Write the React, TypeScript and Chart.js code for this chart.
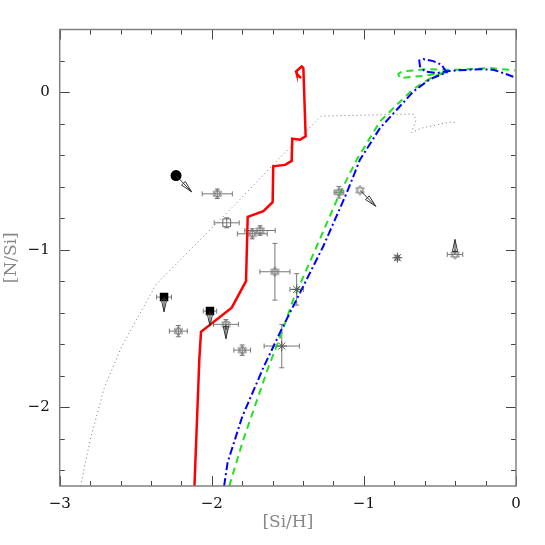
import { useEffect, useRef } from "react";
import { Chart, registerables } from "chart.js";

Chart.register(...registerables);

// ---- axes ----
const xMajorTicks = [-3, -2, -1, 0];
const xMinorTicks = [-2.8, -2.6, -2.4, -2.2, -1.8, -1.6, -1.4, -1.2, -0.8, -0.6, -0.4, -0.2];
const yMajorTicks = [-2, -1, 0];
const yMinorTicks = [0.2, -0.2, -0.4, -0.6, -0.8, -1.2, -1.4, -1.6, -1.8, -2.2, -2.4];

// ---- model curves ----
const dottedX = [-2.863, -2.8, -2.708, -2.593, -2.479, -2.365, -1.84, -1.573, -1.28, -1.09, -0.677, -0.657, -0.686, -0.612, -0.434, -0.402];
const dottedY = [-2.5, -2.21, -1.879, -1.615, -1.416, -1.218, -0.705, -0.435, -0.15, -0.146, -0.137, -0.173, -0.254, -0.224, -0.188, -0.19];

const redX = [-2.114, -2.082, -2.071, -1.869, -1.775, -1.764, -1.661, -1.6, -1.596, -1.519, -1.475, -1.471, -1.42, -1.383, -1.398, -1.409, -1.446, -1.442, -1.414];
const redY = [-2.5, -1.694, -1.521, -1.367, -1.198, -0.79, -0.754, -0.697, -0.469, -0.46, -0.435, -0.294, -0.3, -0.278, 0.155, 0.165, 0.133, 0.119, 0.091];

const greenX = [-1.885, -1.794, -1.629, -1.54, -1.464, -1.31, -1.157, -1.047, -0.894, -0.784, -0.675, -0.544, -0.456, -0.609, -0.763, -0.774, -0.752, -0.587, -0.39, -0.171, -0.005];
const greenY = [-2.5, -2.209, -1.748, -1.526, -1.315, -0.977, -0.638, -0.427, -0.184, -0.078, 0.021, 0.102, 0.127, 0.106, 0.091, 0.117, 0.133, 0.148, 0.144, 0.155, 0.14];

const blueX = [-1.919, -1.896, -1.8, -1.661, -1.552, -1.42, -1.267, -1.113, -1.026, -0.894, -0.784, -0.675, -0.565, -0.456, -0.489, -0.544, -0.609, -0.636, -0.631, -0.598, -0.521, -0.456, -0.39, -0.237, -0.149, -0.083, -0.005];
const blueY = [-2.5, -2.35, -2.06, -1.748, -1.526, -1.272, -0.977, -0.638, -0.427, -0.226, -0.11, 0.006, 0.085, 0.127, 0.176, 0.199, 0.212, 0.203, 0.165, 0.133, 0.123, 0.135, 0.14, 0.148, 0.144, 0.123, 0.095];

// ---- observations ----
const hexX = [-1.964, -1.734, -1.683, -1.585, -1.8, -2.22, -1.907, -1.164, -1.026, -0.401];
const hexY = [-0.644, -0.898, -0.877, -1.139, -1.637, -1.516, -1.473, -0.634, -0.621, -1.029];
const hexXErr = [0.099, 0.098, 0.1, 0.099, 0.055, 0.059, 0.082, 0.032, 0, 0.051];
const hexYErr = [0.03, 0.032, 0.03, 0.18, 0.033, 0.036, 0.03, 0.037, 0, 0];

const astX = [-1.442, -1.54, -0.78];
const astY = [-1.251, -1.611, -1.05];
const astXErr = [0.044, 0.116, 0.015];
const astYErr = [0.1, 0.138, 0.015];

const openSqX = [-1.902];
const openSqY = [-0.828];
const openSqXErr = [0.082];
const openSqYErr = [0.032];

const fillSqX = [-2.314, -2.012];
const fillSqY = [-1.3, -1.389];
const fillSqXErr = [0.049, 0.044];
const fillSqYErr = [0, 0];

const circX = [-2.235];
const circY = [-0.528];

// limit arrows (start -> tip)
const arrowX0 = [-2.235, -1.907, -2.314, -2.012, -1.026, -0.401];
const arrowY0 = [-0.528, -1.473, -1.3, -1.389, -0.621, -1.029];
const arrowX1 = [-2.132, -1.907, -2.314, -2.012, -0.922, -0.401];
const arrowY1 = [-0.632, -1.564, -1.393, -1.484, -0.723, -0.934];

const FONT = "'DejaVu Serif', 'Liberation Serif', serif";

function pts(xs: number[], ys: number[]) {
  return xs.map((x, i) => ({ x, y: ys[i] }));
}

function makeHexagram(size: number, color: string) {
  const c = document.createElement("canvas");
  c.width = size;
  c.height = size;
  const g = c.getContext("2d")!;
  const cx = size / 2;
  const cy = size / 2;
  const r = size / 2 - 0.6;
  g.strokeStyle = color;
  g.lineWidth = 0.9;
  for (const rot of [-Math.PI / 2, Math.PI / 2]) {
    g.beginPath();
    for (let k = 0; k < 3; k++) {
      const a = rot + (k * 2 * Math.PI) / 3;
      const px = cx + r * Math.cos(a);
      const py = cy + r * Math.sin(a);
      if (k === 0) g.moveTo(px, py);
      else g.lineTo(px, py);
    }
    g.closePath();
    g.stroke();
  }
  return c;
}

const errorBarPlugin = {
  id: "errorBars",
  beforeDatasetsDraw(chart: any) {
    const { ctx } = chart;
    const xs = chart.scales.x;
    const ys = chart.scales.y;
    ctx.save();
    ctx.strokeStyle = "#777777";
    ctx.lineWidth = 1;
    const cap = 2.5;
    chart.data.datasets.forEach((ds: any) => {
      const ex: number[] | undefined = ds.errX;
      const ey: number[] | undefined = ds.errY;
      if (!ex && !ey) return;
      ds.data.forEach((p: any, i: number) => {
        const px = xs.getPixelForValue(p.x);
        const py = ys.getPixelForValue(p.y);
        ctx.beginPath();
        if (ex && ex[i]) {
          const l = xs.getPixelForValue(p.x - ex[i]);
          const r = xs.getPixelForValue(p.x + ex[i]);
          ctx.moveTo(l, py);
          ctx.lineTo(r, py);
          ctx.moveTo(l, py - cap);
          ctx.lineTo(l, py + cap);
          ctx.moveTo(r, py - cap);
          ctx.lineTo(r, py + cap);
        }
        if (ey && ey[i]) {
          const t = ys.getPixelForValue(p.y + ey[i]);
          const b = ys.getPixelForValue(p.y - ey[i]);
          ctx.moveTo(px, t);
          ctx.lineTo(px, b);
          ctx.moveTo(px - cap, t);
          ctx.lineTo(px + cap, t);
          ctx.moveTo(px - cap, b);
          ctx.lineTo(px + cap, b);
        }
        ctx.stroke();
      });
    });
    ctx.restore();
  },
};

const arrowPlugin = {
  id: "limitArrows",
  afterDatasetsDraw(chart: any) {
    const { ctx } = chart;
    const xs = chart.scales.x;
    const ys = chart.scales.y;
    ctx.save();
    ctx.strokeStyle = "#333333";
    ctx.lineWidth = 1;
    for (let i = 0; i < arrowX0.length; i++) {
      const x0 = xs.getPixelForValue(arrowX0[i]);
      const y0 = ys.getPixelForValue(arrowY0[i]);
      const x1 = xs.getPixelForValue(arrowX1[i]);
      const y1 = ys.getPixelForValue(arrowY1[i]);
      const dx = x1 - x0;
      const dy = y1 - y0;
      const len = Math.hypot(dx, dy);
      const ux = dx / len;
      const uy = dy / len;
      const hl = Math.min(12, len);
      const hw = 2.6;
      const bx = x1 - ux * hl;
      const by = y1 - uy * hl;
      ctx.beginPath();
      ctx.moveTo(x0, y0);
      ctx.lineTo(x1, y1);
      ctx.moveTo(bx - uy * hw, by + ux * hw);
      ctx.lineTo(x1, y1);
      ctx.lineTo(bx + uy * hw, by - ux * hw);
      ctx.closePath();
      ctx.stroke();
    }
    ctx.restore();
  },
};

const framePlugin = {
  id: "frameTicks",
  afterDatasetsDraw(chart: any) {
    const { ctx, chartArea } = chart;
    const { left, right, top, bottom } = chartArea;
    const xs = chart.scales.x;
    const ys = chart.scales.y;
    ctx.save();
    ctx.strokeStyle = "#444444";
    ctx.lineWidth = 1;
    ctx.beginPath();
    const drawX = (v: number, L: number) => {
      const p = Math.round(xs.getPixelForValue(v)) + 0.5;
      ctx.moveTo(p, bottom);
      ctx.lineTo(p, bottom - L);
      ctx.moveTo(p, top);
      ctx.lineTo(p, top + L);
    };
    const drawY = (v: number, L: number) => {
      const p = Math.round(ys.getPixelForValue(v)) + 0.5;
      ctx.moveTo(left, p);
      ctx.lineTo(left + L, p);
      ctx.moveTo(right, p);
      ctx.lineTo(right - L, p);
    };
    xMajorTicks.forEach((v) => drawX(v, 10));
    xMinorTicks.forEach((v) => drawX(v, 5));
    yMajorTicks.forEach((v) => drawY(v, 10));
    yMinorTicks.forEach((v) => drawY(v, 5));
    ctx.stroke();
    ctx.strokeStyle = "#808080";
    ctx.lineWidth = 1.5;
    ctx.strokeRect(left, top, right - left, bottom - top);
    ctx.restore();
  },
};

const fmt = (v: number) => (v < 0 ? "\u2212" + Math.abs(v) : String(v));

export default function App() {
  const ref = useRef<HTMLCanvasElement | null>(null);

  useEffect(() => {
    if (!ref.current) return;
    const hexImg = makeHexagram(11, "#707070");
    const lineDs = (data: any, color: string, width: number, dash: number[], order: number) => ({
      type: "scatter",
      data,
      showLine: true,
      borderColor: color,
      backgroundColor: color,
      borderWidth: width,
      borderDash: dash,
      pointRadius: 0,
      pointHoverRadius: 0,
      tension: 0,
      order,
    });
    const chart = new Chart(ref.current, {
      type: "scatter",
      data: {
        datasets: [
          {
            type: "scatter",
            data: pts(circX, circY),
            pointStyle: "circle",
            pointRadius: 5.5,
            backgroundColor: "#000000",
            borderColor: "#000000",
            borderWidth: 0,
            order: 0,
          },
          {
            type: "scatter",
            data: pts(fillSqX, fillSqY),
            errX: fillSqXErr,
            errY: fillSqYErr,
            pointStyle: "rect",
            pointRadius: 6,
            backgroundColor: "#000000",
            borderColor: "#000000",
            borderWidth: 0,
            order: 0,
          } as any,
          {
            type: "scatter",
            data: pts(openSqX, openSqY),
            errX: openSqXErr,
            errY: openSqYErr,
            pointStyle: "rect",
            pointRadius: 5.5,
            backgroundColor: "rgba(0,0,0,0)",
            borderColor: "#666666",
            borderWidth: 1,
            order: 0,
          } as any,
          {
            type: "scatter",
            data: pts(hexX, hexY),
            errX: hexXErr,
            errY: hexYErr,
            pointStyle: hexImg,
            pointRadius: 5,
            order: 0,
          } as any,
          {
            type: "scatter",
            data: pts(astX, astY),
            errX: astXErr,
            errY: astYErr,
            pointStyle: "star",
            pointRadius: 5,
            backgroundColor: "rgba(0,0,0,0)",
            borderColor: "#555555",
            borderWidth: 1,
            order: 0,
          } as any,
          lineDs(pts(blueX, blueY), "#0000ff", 2, [8, 3, 2, 3], 1),
          lineDs(pts(greenX, greenY), "#22e022", 2, [7, 5], 2),
          lineDs(pts(redX, redY), "#ff0000", 2.5, [], 3),
          lineDs(pts(dottedX, dottedY), "#777777", 1, [1, 3], 4),
        ] as any,
      },
      options: {
        animation: false,
        responsive: true,
        maintainAspectRatio: false,
        events: [],
        layout: { padding: { left: 0, top: 29.5, right: 29, bottom: 0 } },
        plugins: {
          legend: { display: false },
          tooltip: { enabled: false },
        },
        scales: {
          x: {
            type: "linear",
            min: -3,
            max: 0,
            grid: { display: false, drawTicks: false },
            border: { display: false },
            afterBuildTicks: (s: any) => {
              s.ticks = xMajorTicks.map((v) => ({ value: v }));
            },
            afterFit: (s: any) => {
              s.height = 59;
            },
            ticks: {
              padding: 9,
              color: "#111111",
              font: { family: FONT, size: 15 },
              callback: (v: any) => fmt(Number(v)),
              maxRotation: 0,
            },
            title: {
              display: true,
              text: "[Si/H]",
              color: "#888888",
              font: { family: FONT, size: 17 },
              padding: { top: 0, bottom: 12 },
            },
          },
          y: {
            type: "linear",
            min: -2.5,
            max: 0.4,
            grid: { display: false, drawTicks: false },
            border: { display: false },
            afterBuildTicks: (s: any) => {
              s.ticks = yMajorTicks.map((v) => ({ value: v }));
            },
            afterFit: (s: any) => {
              s.width = 59.7;
            },
            ticks: {
              padding: 10,
              color: "#111111",
              font: { family: FONT, size: 15 },
              callback: (v: any) => fmt(Number(v)),
            },
            title: {
              display: true,
              text: "[N/Si]",
              color: "#888888",
              font: { family: FONT, size: 17 },
              padding: { top: 1.5, bottom: 0 },
            },
          },
        },
      } as any,
      plugins: [errorBarPlugin, framePlugin, arrowPlugin],
    });
    return () => chart.destroy();
  }, []);

  return (
    <div style={{ position: "fixed", left: 0, top: 0, width: 545, height: 545, background: "#ffffff" }}>
      <canvas ref={ref} />
    </div>
  );
}
